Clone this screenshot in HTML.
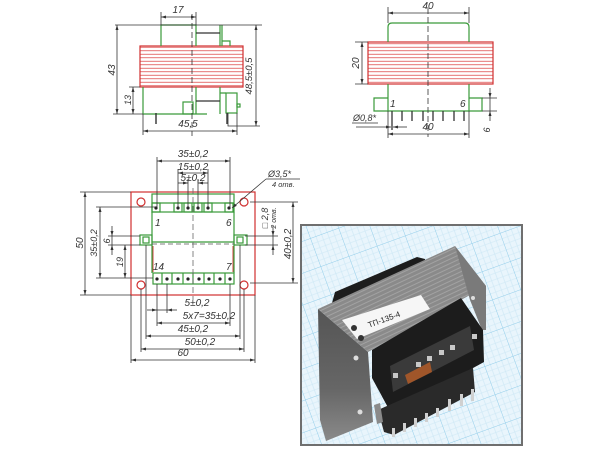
<!DOCTYPE html>
<html><head><meta charset="utf-8">
<style>
html,body{margin:0;padding:0;background:#fff;}
svg{display:block;}
text{font-family:"Liberation Sans","DejaVu Sans",sans-serif;font-style:italic;fill:#333;}
</style></head>
<body>
<svg width="600" height="451" viewBox="0 0 600 451" xmlns="http://www.w3.org/2000/svg">
<defs>
<marker id="a" viewBox="0 0 10 6" refX="10" refY="3" markerWidth="6" markerHeight="3" orient="auto-start-reverse" markerUnits="userSpaceOnUse"><path d="M0,0L10,3L0,6z" fill="#333"/></marker>
<pattern id="st" width="8" height="3.5" patternUnits="userSpaceOnUse"><rect width="8" height="3.5" fill="#fff"/><line x1="0" y1="1.75" x2="8" y2="1.75" stroke="#e05050" stroke-width="0.8"/></pattern>
<pattern id="grid" width="30" height="30" patternUnits="userSpaceOnUse" patternTransform="rotate(-20)">
<rect width="30" height="30" fill="#e9f5fc"/>
<path d="M6,0V30M12,0V30M18,0V30M24,0V30M0,6H30M0,12H30M0,18H30M0,24H30" stroke="#cbe7f5" stroke-width="0.6"/>
<path d="M0,0V30M0,0H30" stroke="#92cdea" stroke-width="1"/>
</pattern>
<pattern id="lam" width="4" height="4" patternUnits="userSpaceOnUse" patternTransform="rotate(-25)"><rect width="4" height="4" fill="#8a8a8a"/><line x1="0" y1="1" x2="4" y2="1" stroke="#a8a8a8" stroke-width="0.8"/></pattern>
<linearGradient id="lf" x1="0" y1="0" x2="0" y2="1"><stop offset="0" stop-color="#555"/><stop offset="0.6" stop-color="#666"/><stop offset="1" stop-color="#8a8a8a"/></linearGradient>
</defs>

<g fill="none" stroke-linecap="butt">
<!-- ================= TOP-LEFT VIEW ================= -->
<rect x="140" y="46" width="103" height="41" fill="url(#st)" stroke="#d03030" stroke-width="1.2"/>
<g stroke="#3a9a3a" stroke-width="1.2">
<path d="M161,46V25H196V46"/>
<path d="M220,25V46M222,25V46M222,41H230V46"/>
<path d="M143,87V114H207"/>
<rect x="183" y="102" width="10" height="12"/>
<path d="M196,87V114M220,87V114M220,93H226"/>
<rect x="226" y="93" width="11" height="20"/>
<rect x="237" y="104" width="3" height="3"/>
</g>
<g stroke="#333" stroke-width="0.8">
<path d="M115,25H262"/>
<path d="M196,33H220M196,101H220" stroke-width="1.2"/>
<path d="M192,14V136" stroke-dasharray="6,3"/>
<path d="M161,12V25M196,12V25"/>
<line x1="161" y1="17" x2="196" y2="17" marker-start="url(#a)" marker-end="url(#a)"/>
<line x1="117" y1="25" x2="117" y2="114" marker-start="url(#a)" marker-end="url(#a)"/>
<path d="M129,87H140M113,114H143"/>
<line x1="133" y1="87" x2="133" y2="114" marker-start="url(#a)" marker-end="url(#a)"/>
<path d="M156,113V124M227,113V124" stroke-width="1.4"/>
<path d="M143,114V135M237,113V135"/>
<line x1="143" y1="131" x2="237" y2="131" marker-start="url(#a)" marker-end="url(#a)"/>
<path d="M228,113V126H260"/>
<line x1="256" y1="25" x2="256" y2="126" marker-start="url(#a)" marker-end="url(#a)"/>
</g>

<!-- ================= TOP-RIGHT VIEW ================= -->
<rect x="368" y="42" width="125" height="42" fill="url(#st)" stroke="#d03030" stroke-width="1.2"/>
<g stroke="#3a9a3a" stroke-width="1.2">
<path d="M388,42V27Q388,23 392,23H465Q469,23 469,27V42"/>
<path d="M388,84V98H374V111H482V98H469V84M388,98V111M469,98V111"/>
</g>
<g stroke="#333" stroke-width="0.8">
<path d="M388,7V23M469,7V23"/>
<line x1="388" y1="13" x2="469" y2="13" marker-start="url(#a)" marker-end="url(#a)"/>
<path d="M355,42H368M355,84H368"/>
<line x1="362" y1="42" x2="362" y2="84" marker-start="url(#a)" marker-end="url(#a)"/>
<path d="M428,8V137" stroke-dasharray="6,3"/>
<path d="M402,111V121M412,111V121M423,111V121M433,111V121M443,111V121M454,111V121M464,111V121M392,111V130" stroke-width="1.3"/>
<path d="M388,111V138M469,111V138"/>
<line x1="388" y1="134" x2="469" y2="134" marker-start="url(#a)" marker-end="url(#a)"/>
<path d="M352,123H378"/>
<line x1="356" y1="127" x2="391" y2="127" marker-end="url(#a)"/>
<line x1="407" y1="127" x2="393" y2="127" marker-end="url(#a)"/>
<path d="M482,98H497M482,111H497"/>
<line x1="490" y1="88" x2="490" y2="98" marker-end="url(#a)"/>
<line x1="490" y1="121" x2="490" y2="111" marker-end="url(#a)"/>
<path d="M490,98V111"/>
</g>

<!-- ================= MIDDLE PLAN VIEW ================= -->
<rect x="131" y="192" width="124" height="103" stroke="#d03030" stroke-width="1.2"/>
<g stroke="#d03030" stroke-width="1.2">
<circle cx="141" cy="202" r="4"/><circle cx="244" cy="202" r="4"/>
<circle cx="141" cy="285" r="4"/><circle cx="244" cy="285" r="4"/>
<path d="M153,246V272M233,246V272" stroke-width="0.9"/>
</g>
<g stroke="#3a9a3a" stroke-width="1.2">
<rect x="152" y="194" width="82" height="18"/>
<path d="M152,203H234"/>
<path d="M152,212V273M234,212V273M152,242H234"/>
<rect x="152" y="203" width="8" height="9"/><rect x="174" y="203" width="8" height="9"/>
<rect x="184" y="203" width="8" height="9"/><rect x="194" y="203" width="8" height="9"/>
<rect x="204" y="203" width="8" height="9"/><rect x="225" y="203" width="8" height="9"/>
<rect x="140" y="235" width="12" height="10"/><rect x="143" y="237" width="6" height="6"/>
<rect x="234" y="235" width="13" height="10"/><rect x="237" y="237" width="6" height="6"/>
<rect x="153" y="273" width="81" height="11"/>
<path d="M162,273V284M172,273V284M183,273V284M193,273V284M204,273V284M214,273V284M225,273V284"/>
</g>
<g fill="#222">
<circle cx="156" cy="208" r="1.6"/><circle cx="178" cy="208" r="1.6"/><circle cx="188" cy="208" r="1.6"/>
<circle cx="198" cy="208" r="1.6"/><circle cx="208" cy="208" r="1.6"/><circle cx="229" cy="208" r="1.6"/>
<circle cx="157" cy="279" r="1.6"/><circle cx="167" cy="279" r="1.6"/><circle cx="178" cy="279" r="1.6"/>
<circle cx="188" cy="279" r="1.6"/><circle cx="199" cy="279" r="1.6"/><circle cx="209" cy="279" r="1.6"/>
<circle cx="220" cy="279" r="1.6"/><circle cx="230" cy="279" r="1.6"/>
</g>
<g stroke="#333" stroke-width="0.8">
<path d="M152,244H234" stroke-dasharray="5,3" stroke="#555"/>
<path d="M193,188V300" stroke-dasharray="6,3" stroke="#666"/>
<path d="M157,157V208M230,157V208M178,169V208M208,169V208M188,179V208M198,179V208"/>
<line x1="157" y1="161" x2="230" y2="161" marker-start="url(#a)" marker-end="url(#a)"/>
<line x1="178" y1="173" x2="208" y2="173" marker-start="url(#a)" marker-end="url(#a)"/>
<line x1="178" y1="183" x2="188" y2="183" marker-end="url(#a)"/>
<line x1="208" y1="183" x2="198" y2="183" marker-end="url(#a)"/>
<path d="M266,179H300"/>
<line x1="266" y1="179" x2="232" y2="208" marker-end="url(#a)"/>
<path d="M80,192H131M80,295H131M96,207H156M96,278H153M108,236H140M108,245H140"/>
<line x1="85" y1="192" x2="85" y2="295" marker-start="url(#a)" marker-end="url(#a)"/>
<line x1="100" y1="207" x2="100" y2="278" marker-start="url(#a)" marker-end="url(#a)"/>
<line x1="112" y1="226" x2="112" y2="236" marker-end="url(#a)"/>
<line x1="112" y1="255" x2="112" y2="245" marker-end="url(#a)"/>
<path d="M112,236V245"/>
<line x1="125" y1="245" x2="125" y2="278" marker-start="url(#a)" marker-end="url(#a)"/>
<path d="M250,202H298M250,283H298M245,236H278M245,245H278"/>
<line x1="293" y1="202" x2="293" y2="283" marker-start="url(#a)" marker-end="url(#a)"/>
<line x1="273" y1="226" x2="273" y2="236" marker-end="url(#a)"/>
<line x1="273" y1="255" x2="273" y2="245" marker-end="url(#a)"/>
<path d="M273,236V245"/>
<path d="M131,295V363M141,289V352M146,245V339M157,284V326M167,284V313M230,284V326M240,245V339M244,289V352M255,295V363"/>
<line x1="147" y1="310" x2="157" y2="310" marker-end="url(#a)"/>
<line x1="177" y1="310" x2="167" y2="310" marker-end="url(#a)"/>
<path d="M157,310H167"/>
<line x1="157" y1="323" x2="230" y2="323" marker-start="url(#a)" marker-end="url(#a)"/>
<line x1="146" y1="336" x2="240" y2="336" marker-start="url(#a)" marker-end="url(#a)"/>
<line x1="141" y1="349" x2="244" y2="349" marker-start="url(#a)" marker-end="url(#a)"/>
<line x1="131" y1="360" x2="255" y2="360" marker-start="url(#a)" marker-end="url(#a)"/>
</g>
</g>

<!-- ================= TEXT ================= -->
<g font-size="10">
<text x="178" y="13" text-anchor="middle">17</text>
<text transform="translate(115,70) rotate(-90)" text-anchor="middle">43</text>
<text transform="translate(131,100) rotate(-90)" text-anchor="middle" font-size="9">13</text>
<text x="188" y="127" text-anchor="middle">45,5</text>
<text transform="translate(252,76) rotate(-90)" text-anchor="middle" font-size="9.5">48,5±0,5</text>

<text x="428" y="9" text-anchor="middle">40</text>
<text transform="translate(359,63) rotate(-90)" text-anchor="middle">20</text>
<text x="390" y="107" font-size="10">1</text>
<text x="460" y="107" font-size="10">6</text>
<text x="353" y="121" font-size="9">Ø0,8*</text>
<text x="428" y="130" text-anchor="middle">40</text>
<text transform="translate(490,130) rotate(-90)" text-anchor="middle" font-size="9">6</text>

<text x="193" y="157" text-anchor="middle">35±0,2</text>
<text x="193" y="170" text-anchor="middle">15±0,2</text>
<text x="193" y="181" text-anchor="middle">5±0,2</text>
<text x="268" y="177" font-size="9">Ø3,5*</text>
<text x="272" y="187" font-size="7.5">4 отв.</text>
<text x="155" y="226" font-size="10">1</text>
<text x="226" y="226" font-size="10">6</text>
<text x="153" y="270" font-size="10">14</text>
<text x="226" y="270" font-size="10">7</text>
<text transform="translate(83,243) rotate(-90)" text-anchor="middle">50</text>
<text transform="translate(97,243) rotate(-90)" text-anchor="middle" font-size="9">35±0,2</text>
<text transform="translate(110,241) rotate(-90)" text-anchor="middle" font-size="9">6</text>
<text transform="translate(123,262) rotate(-90)" text-anchor="middle" font-size="9">19</text>
<text transform="translate(268,218) rotate(-90)" text-anchor="middle" font-size="9">□ 2,8</text>
<text transform="translate(276,218) rotate(-90)" text-anchor="middle" font-size="7">2 отв.</text>
<text transform="translate(291,244) rotate(-90)" text-anchor="middle">40±0,2</text>
<text x="197" y="306" text-anchor="middle">5±0,2</text>
<text x="209" y="319" text-anchor="middle">5x7=35±0,2</text>
<text x="193" y="332" text-anchor="middle">45±0,2</text>
<text x="200" y="345" text-anchor="middle">50±0,2</text>
<text x="183" y="356" text-anchor="middle">60</text>
</g>

<!-- ================= PHOTO ================= -->
<rect x="301" y="225" width="221" height="220" fill="url(#grid)" stroke="#6f6f6f" stroke-width="2"/>
<g>
<polygon points="332,303 335,292 417,257 425,259 425,275 347,311" fill="#1d1d1d"/>
<polygon points="318,309 368,352 373,422 326,441 320,420" fill="url(#lf)"/>
<polygon points="318,309 455,246 486,286 368,352" fill="url(#lam)"/>
<polygon points="455,246 486,286 486,330 482,330 470,300" fill="#7a7a7a"/>
<polygon points="342,320 421,295 430,309 357,339" fill="#f6f6f6"/>
<text transform="translate(385,322) rotate(-20)" text-anchor="middle" font-size="8" style="font-style:normal;fill:#222">ТП-135-4</text>
<circle cx="354" cy="328" r="3" fill="#333"/>
<circle cx="361" cy="338" r="3" fill="#333"/>
<polygon points="372,350 461,298 483,330 484,362 391,413 372,378" fill="#1c1c1c"/>
<polygon points="390,366 470,326 474,350 393,392" fill="#3a3a3a"/>
<polygon points="405,375 430,362 432,372 408,384" fill="#a0562a"/>
<g fill="#c8c8c8">
<rect x="393" y="373" width="5" height="5"/><rect x="416" y="362" width="5" height="5"/>
<rect x="427" y="356" width="5" height="5"/><rect x="439" y="350" width="5" height="5"/>
<rect x="450" y="345" width="5" height="5"/><rect x="472" y="334" width="5" height="5"/>
</g>
<polygon points="378,410 473,368 475,392 394,435 384,432" fill="#2a2a2a"/>
<polygon points="374,405 380,403 383,422 377,424" fill="#8a8a8a"/>
<g fill="#d0d0d0">
<rect x="392" y="428" width="3" height="9"/><rect x="403" y="423" width="3" height="9"/>
<rect x="414" y="418" width="3" height="9"/><rect x="425" y="413" width="3" height="9"/>
<rect x="436" y="408" width="3" height="9"/><rect x="448" y="399" width="3" height="12"/>
<rect x="460" y="394" width="3" height="12"/><rect x="471" y="389" width="3" height="12"/>
</g>
<circle cx="356" cy="358" r="2.5" fill="#ddd"/>
<circle cx="360" cy="412" r="2.5" fill="#ddd"/>
<circle cx="473" cy="298" r="2" fill="#ddd"/>
</g>
</svg>
</body></html>
